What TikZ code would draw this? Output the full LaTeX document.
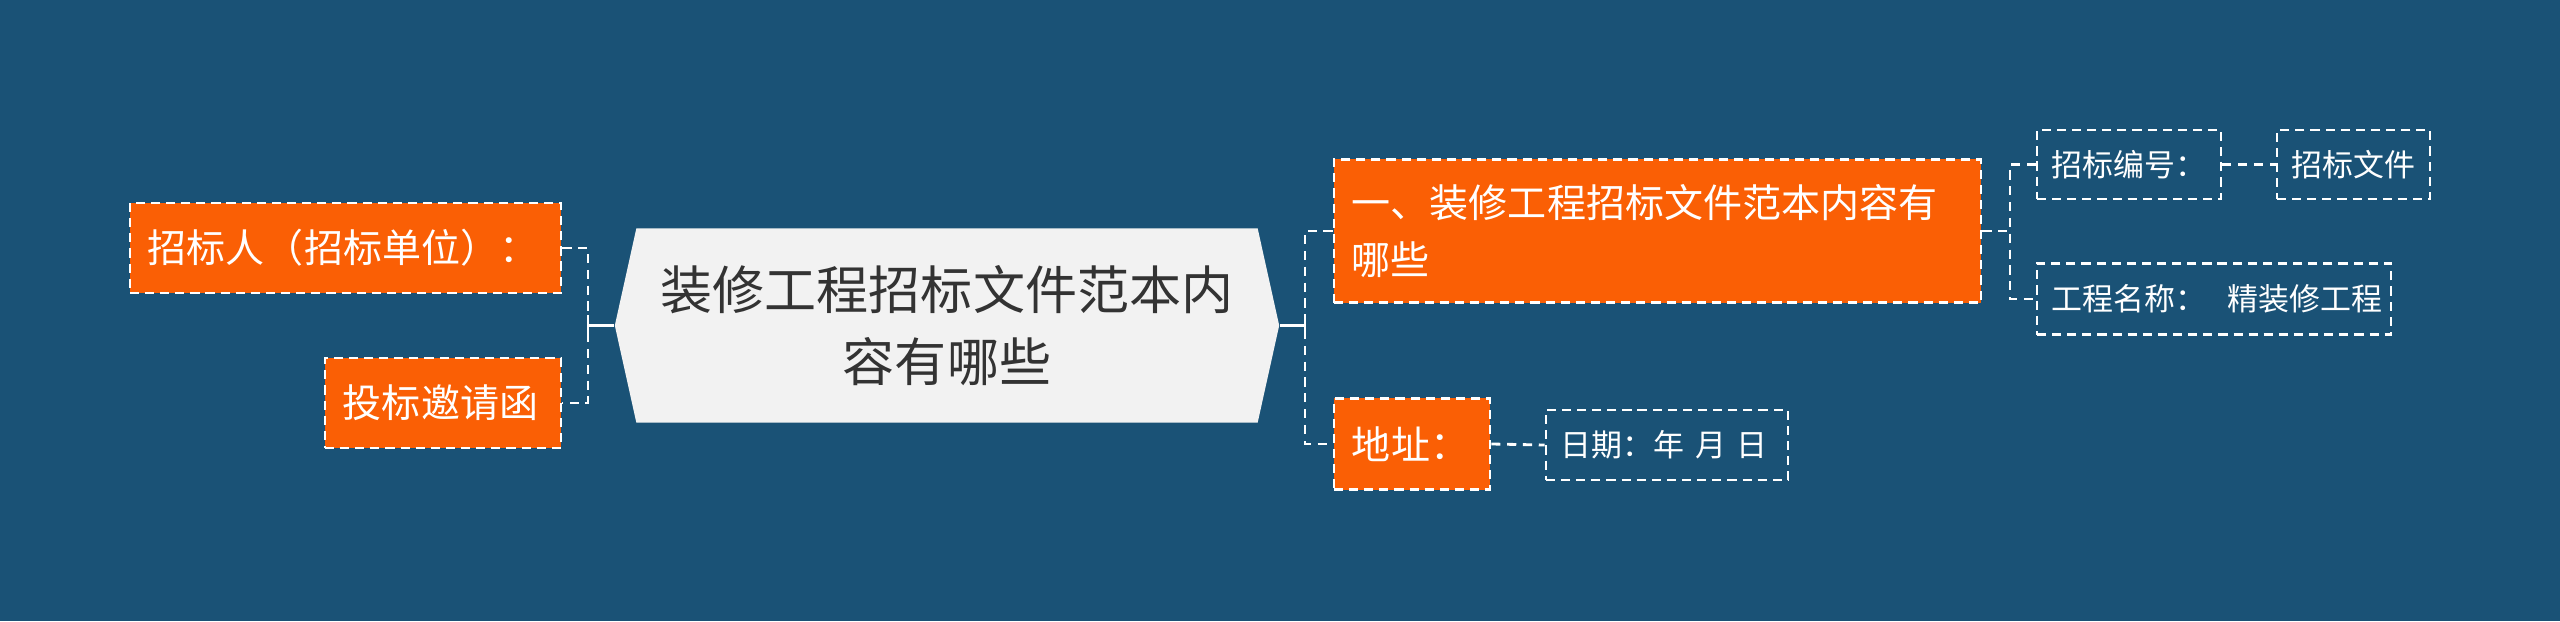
\documentclass[tikz,border=0pt]{standalone}
\usepackage{fontspec}
\setmainfont{Noto Sans CJK SC}
\usetikzlibrary{shapes.symbols}
\definecolor{bgblue}{RGB}{26,82,118}
\definecolor{tagorange}{RGB}{250,95,5}
\definecolor{rootgray}{RGB}{242,242,242}
\definecolor{rootink}{RGB}{51,51,51}
\begin{document}
\begin{tikzpicture}
  [
    x=0.01cm, y=-0.01cm,
    tag/.style={rectangle,draw=white,fill=tagorange,text=white,line width=0.7pt,
      dash pattern=on 2.6pt off 1.7pt,inner xsep=0.18cm,inner ysep=0pt,align=left,
      font=\fontsize{11.1}{16}\selectfont},
    leaf/.style={rectangle,draw=white,text=white,line width=0.7pt,
      dash pattern=on 2.6pt off 1.7pt,inner xsep=0.15cm,inner ysep=0pt,align=left,
      font=\fontsize{8.8}{12}\selectfont},
    root/.style={signal,signal to=west and east,signal pointer angle=155,
      fill=rootgray,text=rootink,align=center,inner sep=0pt,
      minimum width=6.64cm,minimum height=1.94cm,
      font=\fontsize{14.8}{20.5}\selectfont},
    wire/.style={white,line width=0.8pt},
    dashwire/.style={wire,dash pattern=on 2.6pt off 1.9pt},
  ]
  \fill[bgblue] (0,0) rectangle (2560,621);

  % centre
  \node (root) at (947,325.5) [root] {装修工程招标文件范本内\\容有哪些};

  % left side
  \node (ln1) at (345.5,248) [tag,text width=3.95cm,minimum height=0.90cm] {招标人（招标单位）：};
  \node (ln2) at (443,403) [tag,text width=2.00cm,minimum height=0.90cm] {投标邀请函};
  \coordinate (lj) at (588,325.5);
  \draw[wire] (root.west) -- (lj);
  \draw[wire] ([yshift=-0.1cm]lj) -- ([yshift=0.1cm]lj);
  \draw[dashwire] (ln1.east) -| (lj) |- (ln2.east);

  % right side
  \node (rn1) at (1657.5,231) [tag,text width=6.11cm,minimum height=1.43cm] {一、装修工程招标文件范本内容有\\哪些};
  \node (rn2) at (1412,444) [tag,text width=1.20cm,minimum height=0.91cm] {地址：};
  \coordinate (rj) at (1305,325.5);
  \draw[wire] (root.east) -- (rj);
  \draw[wire] ([yshift=-0.1cm]rj) -- ([yshift=0.1cm]rj);
  \draw[dashwire] (rn1.west) -| (rj) |- (rn2.west);

  % leaves
  \node (date) at (1667,445) [leaf,text width=2.12cm,minimum height=0.70cm] {\mbox{日期：年 月 日}};
  \node (sb1) at (2129,164.5) [leaf,text width=1.54cm,minimum height=0.69cm] {\mbox{招标编号：}};
  \node (sb2) at (2353.5,164.5) [leaf,text width=1.23cm,minimum height=0.69cm] {招标文件};
  \node (sb3) at (2214,299) [leaf,text width=3.24cm,minimum height=0.71cm] {\mbox{工程名称：\ \ 精装修工程}};
  \coordinate (rk) at (2010,231);
  \draw[dashwire] (rn2.east) -- (date.west);
  \draw[dashwire] (rn1.east) -- (rk);
  \draw[dashwire] (sb1.west) -| (rk) |- (sb3.west);
  \draw[dashwire] (sb1.east) -- (sb2.west);
\end{tikzpicture}
\end{document}
